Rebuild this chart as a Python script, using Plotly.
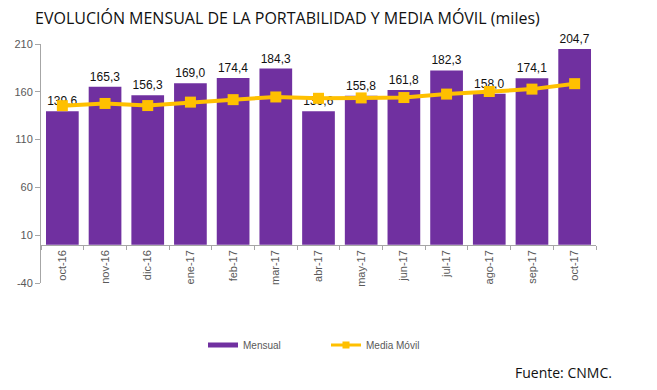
import plotly.graph_objects as go

categories = ["oct-16", "nov-16", "dic-16", "ene-17", "feb-17", "mar-17", "abr-17",
              "may-17", "jun-17", "jul-17", "ago-17", "sep-17", "oct-17"]
mensual = [139.6, 165.3, 156.3, 169.0, 174.4, 184.3, 139.6, 155.8, 161.8, 182.3, 158.0, 174.1, 204.7]
media_movil = [145.5, 147.8, 145.6, 149.2, 151.8, 154.6, 153.2, 153.6, 154.0, 157.6, 160.3, 162.8, 168.5]
y_ticks = [-40, 10, 60, 110, 160, 210]

PURPLE = "#7030A0"
YELLOW = "#FFC000"
GRAY = "#595959"

# page body has an 8px margin; the figure is sized so it ends at the window edge
OFF = 8
W, H = 657 - OFF, 390 - OFF
PL, PR, PT, PB = 41, 596, 44, 283  # plot area in page pixels
PW, PH = PR - PL, PB - PT

fig = go.Figure()
fig.add_trace(go.Bar(
    x=categories, y=mensual, name="Mensual", showlegend=False,
    marker=dict(color=PURPLE, line=dict(width=0)),
    texttemplate="%{y:.1f}", textposition="outside",
    textfont=dict(family="Arial", size=12, color="#111111"),
    cliponaxis=False,
))
fig.add_trace(go.Scatter(
    x=categories, y=media_movil, name="Media Móvil", mode="lines+markers", showlegend=False,
    line=dict(color=YELLOW, width=4),
    marker=dict(symbol="square", size=11, color=YELLOW),
))
# legend-only entries (line-style keys like the original)
fig.add_trace(go.Scatter(x=[None], y=[None], name="Mensual", mode="lines",
                         line=dict(color=PURPLE, width=5)))
fig.add_trace(go.Scatter(x=[None], y=[None], name="Media Móvil", mode="lines+markers",
                         line=dict(color=YELLOW, width=3),
                         marker=dict(symbol="square", size=7, color=YELLOW)))

fig.update_layout(
    width=W, height=H,
    margin=dict(l=PL - OFF, r=657 - PR, t=PT - OFF, b=390 - PB, autoexpand=False),
    paper_bgcolor="white", plot_bgcolor="white",
    separators=",.",
    bargap=0.234,
    showlegend=True,
    legend=dict(orientation="h", x=(203-PL)/PW, y=-(345-PB)/PH, xanchor="left", yanchor="middle",
                font=dict(family="Arial", size=10, color=GRAY), entrywidth=78,
                itemwidth=30, tracegroupgap=0),
    title=dict(text="EVOLUCIÓN MENSUAL DE LA PORTABILIDAD Y MEDIA MÓVIL (miles)",
               x=(35 - OFF)/W, xanchor="left", y=1-(18 - OFF)/H, yanchor="middle",
               font=dict(family="Open Sans", size=16, color="#111111")),
    annotations=[dict(text="Fuente: CNMC.", xref="paper", yref="paper",
                      x=(614-PL)/PW, xanchor="right", y=-(372-PB)/PH, yanchor="middle",
                      showarrow=False, font=dict(family="Open Sans", size=14, color="#111111"))],
    xaxis=dict(
        type="category", anchor="free", position=40/250, automargin=False,
        range=[-0.5, len(categories) - 0.5],
        showline=True, linecolor="#A6A6A6", linewidth=1,
        ticks="outside", tickson="boundaries", ticklen=4, tickcolor="#A6A6A6",
        tickangle=-90, tickfont=dict(family="Arial", size=11, color=GRAY),
        showgrid=False, zeroline=False,
    ),
    yaxis=dict(
        range=[-40, 210], tickvals=y_ticks, ticktext=[str(v) for v in y_ticks],
        automargin=False,
        showline=True, linecolor="#A6A6A6", linewidth=1,
        ticks="outside", ticklen=5, tickcolor="#A6A6A6",
        tickfont=dict(family="Arial", size=11, color=GRAY),
        showgrid=False, zeroline=False,
    ),
)

fig.write_html("out.html")
